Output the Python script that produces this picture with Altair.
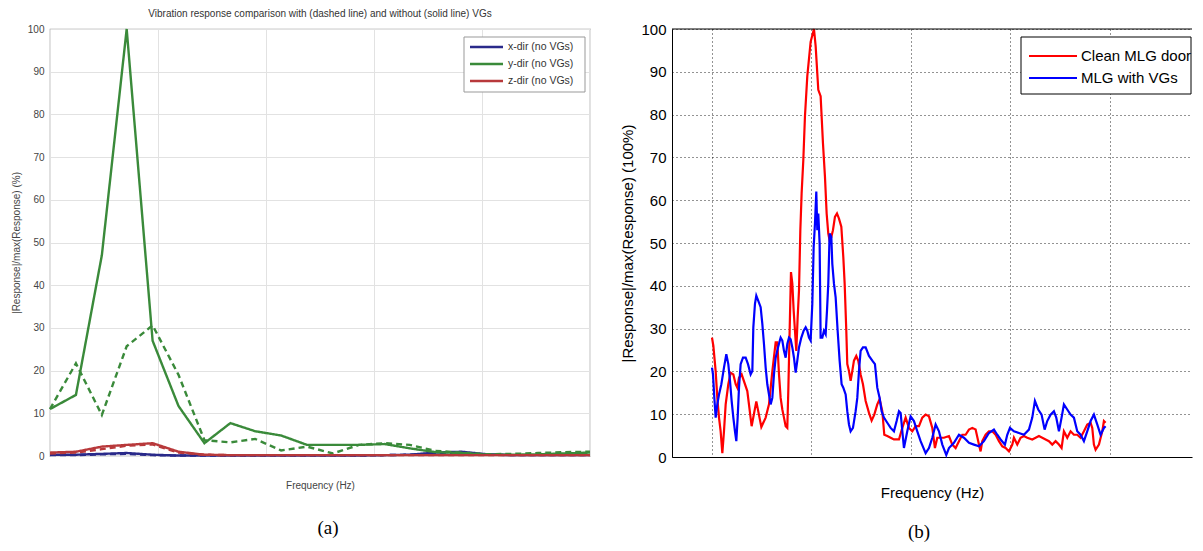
import altair as alt
import pandas as pd

# ---------------- Panel (a) data ----------------
freq_a = [0, 2.4, 4.8, 7.1, 9.5, 11.9, 14.3, 16.7, 19.0, 21.4, 23.8, 26.2,
          28.6, 31.0, 33.3, 35.7, 38.1, 40.5, 42.9, 45.2, 47.6, 50.0]
x_dir_no = [0.3, 0.3, 0.5, 0.7, 0.3, 0.1, 0.1, 0.1, 0.1, 0.1, 0.1, 0.1,
            0.1, 0.2, 0.3, 0.8, 1.0, 0.4, 0.2, 0.2, 0.2, 0.2]
x_dir_vg = [0.2, 0.2, 0.4, 0.5, 0.2, 0.1, 0.1, 0.1, 0.1, 0.1, 0.1, 0.1,
            0.1, 0.2, 0.3, 0.6, 0.8, 0.3, 0.2, 0.2, 0.2, 0.2]
y_dir_no = [11, 14.3, 47, 100, 27, 11.7, 3, 7.7, 5.8, 4.8, 2.6, 2.6,
            2.6, 2.8, 1.8, 0.9, 0.7, 0.3, 0.3, 0.4, 0.6, 0.8]
y_dir_vg = [11, 21.7, 9.6, 25.7, 30.6, 19, 3.7, 3.2, 4, 1.3, 2.2, 0.6,
            2.6, 3, 2.6, 1.2, 0.8, 0.4, 0.5, 0.7, 0.9, 1.0]
z_dir_no = [0.8, 1.0, 2.2, 2.6, 3.0, 1.0, 0.3, 0.2, 0.2, 0.2, 0.2, 0.2,
            0.2, 0.2, 0.2, 0.2, 0.2, 0.2, 0.2, 0.2, 0.2, 0.2]
z_dir_vg = [0.6, 0.8, 1.6, 2.4, 2.7, 0.8, 0.3, 0.2, 0.2, 0.2, 0.2, 0.2,
            0.2, 0.2, 0.2, 0.2, 0.2, 0.2, 0.2, 0.2, 0.2, 0.2]
names_a = ["x-dir (no VGs)", "y-dir (no VGs)", "z-dir (no VGs)"]
colors_a = ["#2a2a8a", "#3a8a3a", "#b8393b"]

# ---------------- Panel (b) data ----------------
red_f = [0.0, 0.27, 0.74, 1.07, 1.41, 1.74, 2.08, 2.41, 2.75, 3.28,
         3.75, 4.29, 4.76, 5.09, 5.43, 5.96, 7.10, 7.97, 8.91, 9.92,
         10.79, 11.46, 12.13, 12.80, 13.13, 13.47, 13.80, 14.14, 14.47, 14.81,
         15.14, 15.34, 15.61, 15.88, 16.15, 16.42, 16.68, 16.95, 17.22, 17.49,
         17.76, 18.02, 18.36, 18.69, 19.16, 19.83, 20.50, 20.84, 21.37, 21.84,
         22.31, 22.71, 23.05, 23.38, 23.65, 23.99, 24.32, 24.72, 25.13, 25.53,
         26.00, 26.40, 26.67, 27.00, 27.20, 27.54, 27.87, 28.21, 28.54, 29.01,
         29.41, 29.88, 30.35, 30.89, 31.56, 32.09, 32.63, 33.23, 33.70, 34.24,
         34.64, 35.24, 35.91, 36.58, 37.59, 38.26, 38.93, 39.60, 40.27, 40.94,
         41.61, 42.28, 42.95, 43.62, 44.29, 44.82, 45.29, 45.96, 46.63, 47.64,
         48.31, 48.98, 49.65, 50.32, 50.99, 51.66, 52.33, 53.00, 53.67, 54.00,
         54.34, 55.01, 55.68, 56.35, 57.02, 57.69, 58.36, 59.03, 59.70, 60.37,
         60.70, 61.37, 62.04, 62.71, 63.38, 64.39, 65.06, 65.73, 66.40, 67.07,
         67.74, 68.41, 69.08, 69.75, 70.28, 70.75, 71.42, 72.09, 72.76, 73.43,
         74.10, 74.77, 75.44, 76.11, 76.45, 76.78, 77.12, 77.79, 78.46, 78.79,
         79.13]
red_v = [27.9, 26, 20, 13.8, 9.2, 6, 0.9, 6, 12.3, 17,
         19.7, 19.3, 17, 16.2, 18.5, 19.3, 15.4, 7.2, 13, 7,
         9.2, 12.3, 20, 26.8, 26.8, 19.3, 13.8, 11.1, 9.2, 7.2,
         6.8, 15.4, 29.5, 43.2, 40.5, 34.2, 29.5, 24.8, 32.6, 38.9,
         53, 61.6, 69.4, 79.6, 89, 97, 100, 96, 85.8, 84.3,
         73.3, 65.5, 56.9, 52.2, 50.6, 51.4, 53, 56.1, 56.9, 55.7,
         53.8, 46.7, 40.5, 29.5, 21.7, 20.1, 17.8, 20.1, 22.5, 23.6,
         22.5, 19.3, 17, 13.1, 10.3, 8.5, 9.9, 12.3, 13.5, 10.7,
         5.2, 4.9, 4.5, 4.1, 4.1, 6.8, 9.2, 6.8, 6, 7.2,
         7.2, 9.2, 9.9, 9.5, 6.8, 2.1, 4.5, 4.5, 4.5, 4.9,
         2.9, 2.1, 3.7, 5.2, 5.2, 6.4, 6.8, 6.4, 2.9, 1.3,
         3.7, 5.2, 6, 6, 5.2, 3.7, 2.5, 2.1, 1.3, 2.9,
         4.5, 2.9, 4.5, 4.9, 4.5, 4.1, 4.5, 4.9, 4.5, 4.1,
         3.7, 2.9, 3.7, 2.9, 2.1, 6, 4.5, 6, 5.2, 5.2,
         4.5, 6, 7.6, 8, 6.8, 2.9, 1.7, 2.9, 6, 8.4,
         8]
blue_f = [0.0, 0.2, 0.47, 0.74, 1.07, 1.41, 1.88, 2.41, 2.88, 3.28,
          3.62, 3.95, 4.29, 4.62, 4.89, 5.16, 5.43, 5.76, 6.23, 6.77,
          7.24, 7.77, 8.11, 8.31, 8.64, 8.91, 9.31, 9.78, 10.12, 10.45,
          10.79, 11.12, 11.46, 11.79, 12.13, 12.46, 12.80, 13.27, 13.80, 14.14,
          14.47, 14.81, 15.14, 15.48, 15.81, 16.15, 16.48, 16.82, 17.15, 17.49,
          17.96, 18.43, 18.83, 19.16, 19.50, 19.83, 20.17, 20.44, 20.70, 20.97,
          21.17, 21.37, 21.64, 21.84, 22.18, 22.51, 22.85, 23.12, 23.38, 23.65,
          23.99, 24.19, 24.52, 24.86, 25.26, 25.66, 26.06, 26.40, 26.87, 27.20,
          27.54, 27.87, 28.34, 28.88, 29.21, 29.55, 29.88, 30.35, 30.89, 31.56,
          32.23, 32.76, 33.23, 33.70, 34.10, 34.57, 35.24, 35.91, 36.58, 37.12,
          37.59, 37.92, 38.59, 39.26, 39.93, 40.60, 41.27, 41.94, 42.95, 43.62,
          44.29, 44.96, 45.63, 46.30, 47.10, 47.64, 48.64, 49.65, 50.65, 51.66,
          52.66, 53.67, 54.67, 55.68, 56.68, 57.35, 58.02, 58.89, 59.36, 59.90,
          60.70, 61.71, 62.71, 63.72, 64.39, 64.92, 65.59, 66.26, 66.87, 67.40,
          68.07, 68.74, 69.21, 69.75, 70.28, 70.75, 71.42, 72.09, 72.76, 73.43,
          74.10, 74.77, 75.44, 76.11, 76.78, 77.45, 78.12, 78.79, 79.13]
blue_v = [20.9, 19.3, 13.8, 9.2, 12.3, 14.6, 17, 20.9, 24, 21.7,
          17.8, 13.1, 9.2, 6, 3.7, 9.2, 16.2, 21.7, 23.2, 23.2,
          21.7, 19.3, 20.1, 30.3, 35.8, 37.7, 36.5, 35, 31.1, 26.4,
          20.9, 17, 14.6, 12.3, 13.8, 19.3, 23.2, 25.6, 27.9, 27.2,
          24.8, 23.2, 26.4, 27.9, 27.5, 25.6, 23.2, 19.7, 22.5, 25.6,
          27.9, 29.5, 30.3, 29.5, 27.9, 27.2, 35.8, 49.1, 54.5, 62,
          53, 56.9, 49.8, 27.9, 27.9, 29.5, 28.7, 34.2, 40.5, 52.2,
          51.4, 45.1, 40.5, 37.3, 29.5, 22.5, 17, 16.2, 14.6, 10.7,
          7.6, 6, 6.8, 10.7, 13.8, 20.1, 24.8, 25.6, 25.6, 23.6,
          22.5, 21.7, 16.2, 13.8, 10.7, 9.2, 8, 6.8, 6, 8.4,
          10.7, 10.3, 2.1, 6, 9.5, 8.4, 6, 3.7, 0.9, 2.1,
          4.5, 7.6, 6, 2.9, 0.5, 2.1, 3.3, 5.2, 4.5, 3.3,
          2.9, 2.5, 3.7, 5.6, 6.4, 5.2, 4.1, 2.9, 5.2, 6.8,
          6, 5.6, 5.2, 6.4, 9.2, 13.1, 11.1, 9.9, 6.4, 8.4,
          9.9, 10.7, 9.2, 6, 9.2, 12.3, 11.1, 9.9, 9.2, 6,
          5.2, 3.7, 6, 8.4, 9.9, 7.6, 5.2, 6.8, 7.2]
names_b = ["Clean MLG door", "MLG with VGs"]
colors_b = ["#ff0000", "#0000ff"]

# ---------------- tables ----------------
rows_a = []
for name, no_vg, with_vg in zip(names_a, [x_dir_no, y_dir_no, z_dir_no],
                                [x_dir_vg, y_dir_vg, z_dir_vg]):
    for f, a, b in zip(freq_a, no_vg, with_vg):
        rows_a.append({"f": f, "v": a, "s": name, "vg": "without"})
        rows_a.append({"f": f, "v": b, "s": name, "vg": "with"})
df_a = pd.DataFrame(rows_a)

rows_b = []
for name, fs, vs in zip(names_b, [red_f, blue_f], [red_v, blue_v]):
    for i, (f, v) in enumerate(zip(fs, vs)):
        rows_b.append({"f": f, "v": v, "s": name, "i": i})
df_b = pd.DataFrame(rows_b)

SANS = "Liberation Sans"
SERIF = "Liberation Serif"


def legend_layers(names, colors, box, rows_y, line_x, text_x, font_size,
                  line_w, box_color, text_color):
    one = pd.DataFrame({"k": [0]})
    layers = [alt.Chart(one).mark_rect(fill="white", stroke=box_color, strokeWidth=1).encode(
        x=alt.value(box[0]), x2=alt.value(box[1]), y=alt.value(box[2]), y2=alt.value(box[3]))]
    for name, col, yy in zip(names, colors, rows_y):
        d = pd.DataFrame({"s": [name]})
        layers.append(alt.Chart(d).mark_rule(color=col, strokeWidth=line_w).encode(
            x=alt.value(line_x[0]), x2=alt.value(line_x[1]), y=alt.value(yy)))
        layers.append(alt.Chart(d).mark_text(
            align="left", baseline="middle", font=SANS, fontSize=font_size,
            color=text_color).encode(text="s:N", x=alt.value(text_x), y=alt.value(yy)))
    return layers


# ---------------- Panel (a) ----------------
WA, HA = 540, 427
lines_a = alt.Chart(df_a).mark_line(strokeWidth=2.4).encode(
    x=alt.X("f:Q", scale=alt.Scale(domain=[0, 50], nice=False, zero=False),
            axis=alt.Axis(values=[0, 10, 20, 30, 40, 50], labels=False, ticks=False,
                          domain=False, grid=True, gridColor="#e2e2e2",
                          title="Frequency (Hz)", titleFont=SANS, titleFontSize=10,
                          titleFontWeight="normal", titleColor="#444", titlePadding=24)),
    y=alt.Y("v:Q", scale=alt.Scale(domain=[0, 100], nice=False),
            axis=alt.Axis(values=list(range(0, 101, 10)), labelFont=SANS,
                          labelFontSize=10, labelColor="#444", tickSize=0,
                          labelPadding=6, domain=False, grid=True, gridColor="#e2e2e2",
                          title="|Response|/max(Response) (%)", titleFont=SANS,
                          titleFontSize=10, titleFontWeight="normal",
                          titleColor="#444", titlePadding=6)),
    color=alt.Color("s:N", scale=alt.Scale(domain=names_a, range=colors_a), legend=None),
    strokeDash=alt.StrokeDash("vg:N", scale=alt.Scale(domain=["without", "with"],
                                                      range=[[1, 0], [6, 4]]),
                              legend=None),
    order=alt.Order("f:Q"),
)
leg_a = legend_layers(names_a, colors_a, box=(414, 535, 8, 63), rows_y=[18, 35, 52],
                      line_x=(420, 453), text_x=458, font_size=10.5, line_w=2.5,
                      box_color="#999", text_color="#333")
cap_a = alt.Chart(pd.DataFrame({"t": ["(a)"]})).mark_text(
    font=SERIF, fontSize=19, color="black").encode(
    text="t:N", x=alt.value(278), y=alt.value(499))

chart_a = alt.layer(lines_a, *leg_a, cap_a).properties(
    width=WA, height=HA,
    title=alt.TitleParams(
        "Vibration response comparison with (dashed line) and without (solid line) VGs",
        font=SANS, fontSize=10, fontWeight="normal", color="#333", offset=5,
        anchor="middle"),
    view=alt.ViewBackground(stroke="#999", strokeWidth=1.2),
)

# ---------------- Panel (b) ----------------
WB, HB = 520, 428
grid_b = dict(grid=True, gridColor="black", gridDash=[1, 3], gridOpacity=0.85)
lines_b = alt.Chart(df_b).mark_line(strokeWidth=2.2).encode(
    x=alt.X("f:Q", scale=alt.Scale(domain=[-8.04, 96.5], nice=False, zero=False),
            axis=alt.Axis(values=[0, 20, 40, 60, 80], labels=False, ticks=False,
                          domainColor="black", title="Frequency (Hz)", titleFont=SANS,
                          titleFontSize=15, titleFontWeight="normal",
                          titleColor="black", titlePadding=28, **grid_b)),
    y=alt.Y("v:Q", scale=alt.Scale(domain=[0, 100], nice=False),
            axis=alt.Axis(values=list(range(0, 101, 10)), labelFont=SANS,
                          labelFontSize=15, labelColor="black", tickSize=0,
                          labelPadding=6, domainColor="black",
                          title="|Response|/max(Response) (100%)", titleFont=SANS,
                          titleFontSize=15, titleFontWeight="normal",
                          titleColor="black", titlePadding=5, **grid_b)),
    color=alt.Color("s:N", scale=alt.Scale(domain=names_b, range=colors_b), legend=None),
    order=alt.Order("i:Q"),
)
top_b = alt.Chart(pd.DataFrame({"k": [0]})).mark_rule(color="black", strokeWidth=1).encode(
    x=alt.value(0), x2=alt.value(WB), y=alt.value(0))
leg_b = legend_layers(names_b, colors_b, box=(349, 519, 8, 65), rows_y=[27, 49],
                      line_x=(357, 405), text_x=409, font_size=15, line_w=2.2,
                      box_color="black", text_color="black")
cap_b = alt.Chart(pd.DataFrame({"t": ["(b)"]})).mark_text(
    font=SERIF, fontSize=19, color="black").encode(
    text="t:N", x=alt.value(247), y=alt.value(503))

chart_b = alt.layer(lines_b, top_b, *leg_b, cap_b).properties(
    width=WB, height=HB,
    view=alt.ViewBackground(stroke="transparent"),
)

chart = alt.hconcat(chart_a, chart_b, spacing=24).resolve_scale(
    color="independent", strokeDash="independent"
).properties(
    padding={"left": 2, "top": 0, "right": 0, "bottom": 0},
    background="white",
)

chart.save("out.html", embed_options={"renderer": "svg", "actions": False})
